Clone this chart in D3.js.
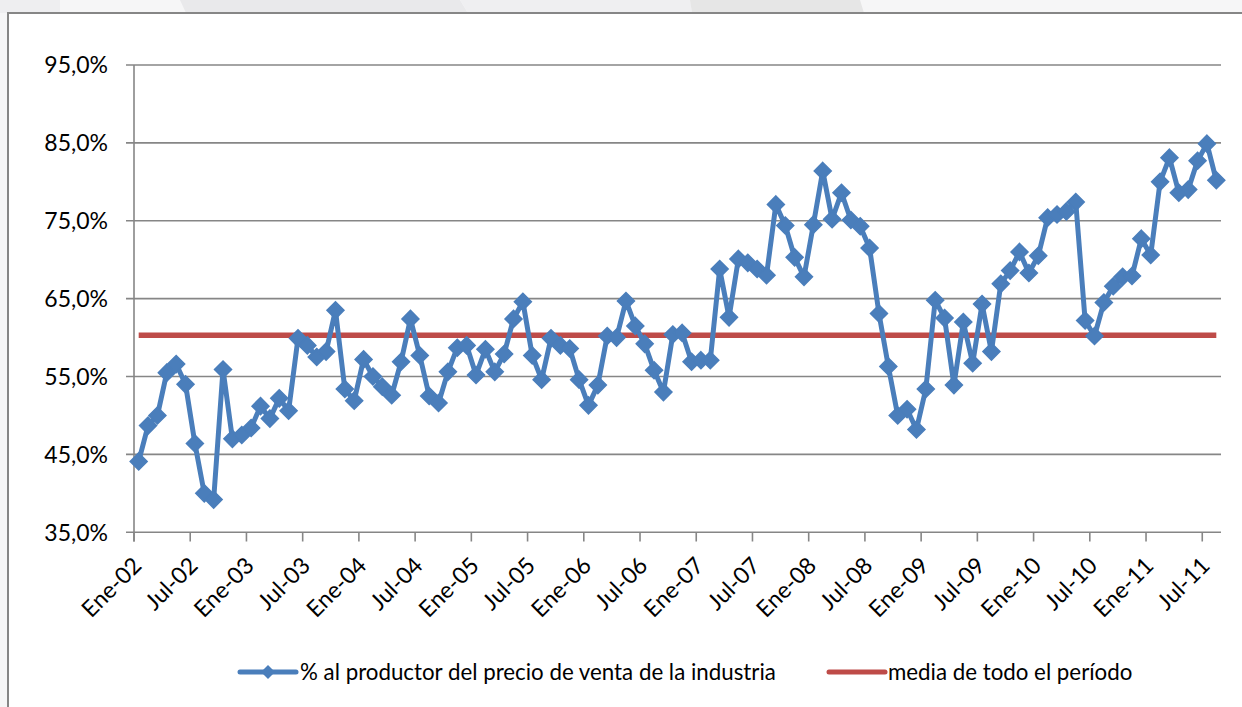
<!DOCTYPE html>
<html>
<head>
<meta charset="UTF-8">
<title>% al productor del precio de venta</title>
<script src="https://cdn.jsdelivr.net/npm/d3@7"></script>
<style>
  body { margin: 0; background: #f6f6f7; }
  svg { display: block; }
  text { font-family: Lato, "Open Sans", sans-serif; fill: #000; }
</style>
</head>
<body>
<script>
// datos mensuales Ene-02 .. Ago-11
var meses = ["Ene","Feb","Mar","Abr","May","Jun","Jul","Ago","Sep","Oct","Nov","Dic"];
var anios = ["02","03","04","05","06","07","08","09","10","11"];
var valores = [
  44.1, 48.7, 50.0, 55.5, 56.6, 54.0, 46.4, 40.0, 39.2, 55.9, 47.0, 47.5,
  48.4, 51.2, 49.6, 52.2, 50.6, 59.9, 59.0, 57.5, 58.2, 63.5, 53.4, 51.9,
  57.2, 55.0, 53.7, 52.6, 56.9, 62.4, 57.7, 52.5, 51.6, 55.6, 58.7, 59.0,
  55.2, 58.5, 55.6, 57.9, 62.4, 64.6, 57.7, 54.6, 59.9, 59.0, 58.6, 54.6,
  51.3, 53.9, 60.2, 60.0, 64.7, 61.5, 59.2, 55.8, 53.0, 60.4, 60.6, 56.9,
  57.1, 57.1, 68.8, 62.6, 70.1, 69.6, 68.8, 68.0, 77.1, 74.4, 70.3, 67.8,
  74.5, 81.4, 75.2, 78.6, 75.1, 74.3, 71.5, 63.1, 56.3, 50.0, 50.8, 48.2,
  53.4, 64.8, 62.5, 53.9, 62.0, 56.7, 64.3, 58.2, 66.9, 68.6, 71.0, 68.3,
  70.5, 75.4, 75.8, 76.2, 77.4, 62.2, 60.2, 64.5, 66.6, 67.8, 67.9, 72.7,
  70.6, 80.0, 83.1, 78.6, 79.0, 82.7, 84.9, 80.2
];
var media = 60.3;
var yTicks = [35, 45, 55, 65, 75, 85, 95];
var xTickLabels = ["Ene-02","Jul-02","Ene-03","Jul-03","Ene-04","Jul-04","Ene-05","Jul-05",
  "Ene-06","Jul-06","Ene-07","Jul-07","Ene-08","Jul-08","Ene-09","Jul-09","Ene-10","Jul-10",
  "Ene-11","Jul-11"];
var leyenda = ["% al productor del precio de venta de la industria", "media de todo el período"];

var categorias = valores.map(function(v, i) {
  return meses[i % 12] + "-" + anios[Math.floor(i / 12)];
});

var W = 1242, H = 707;
var azul = "#4a7ebb", rojo = "#be4b48", gris = "#868686";

var svg = d3.select("body").append("svg")
  .attr("width", W).attr("height", H);

// fondo de la diapositiva
var fondo = [
  {pts: [[0,0],[60,0],[60,13],[0,13]], c: "#eeeef0"},
  {pts: [[180,0],[460,0],[468,13],[186,13]], c: "#e9e9eb"},
  {pts: [[460,0],[690,0],[692,13],[468,13]], c: "#efeff1"},
  {pts: [[690,0],[860,0],[864,13],[692,13]], c: "#e6e6e6"}
];
svg.selectAll("polygon.fondo").data(fondo).enter().append("polygon")
  .attr("class", "fondo")
  .attr("points", function(d) { return d.pts.join(" "); })
  .attr("fill", function(d) { return d.c; });

// marco del grafico
svg.append("rect")
  .attr("x", 8).attr("y", 13)
  .attr("width", W + 20).attr("height", H + 20)
  .attr("fill", "#fff")
  .attr("stroke", gris).attr("stroke-width", 2);

var x = d3.scaleBand().domain(categorias).range([134, 1221]).padding(0);
var y = d3.scaleLinear().domain([35, 95]).range([532.3, 65]);
var cx = function(i) { return x(categorias[i]) + x.bandwidth() / 2; };

// rejilla horizontal
svg.append("g").selectAll("line").data(yTicks).enter().append("line")
  .attr("x1", 126).attr("x2", 1221)
  .attr("y1", function(d) { return y(d); })
  .attr("y2", function(d) { return y(d); })
  .attr("stroke", gris).attr("stroke-width", 1.6);

// eje y
svg.append("line")
  .attr("x1", 134).attr("x2", 134)
  .attr("y1", y(95)).attr("y2", 541.5)
  .attr("stroke", gris).attr("stroke-width", 1.6);

svg.append("g").selectAll("text").data(yTicks).enter().append("text")
  .attr("x", 108)
  .attr("y", function(d) { return y(d); })
  .attr("dy", "0.36em")
  .attr("text-anchor", "end")
  .style("font-size", "23px")
  .text(function(d) { return d3.format(".1f")(d).replace(".", ",") + "%"; });

// marcas y etiquetas del eje x
var tickCats = categorias.filter(function(c, i) { return i % 6 === 0; });
svg.append("g").selectAll("line").data(tickCats).enter().append("line")
  .attr("x1", function(d) { return x(d); })
  .attr("x2", function(d) { return x(d); })
  .attr("y1", 532.3).attr("y2", 541.5)
  .attr("stroke", gris).attr("stroke-width", 1.6);

svg.append("g").selectAll("text").data(tickCats).enter().append("text")
  .attr("transform", function(d) {
    return "translate(" + (x(d) + 9) + ",567) rotate(-45)";
  })
  .attr("text-anchor", "end")
  .style("font-size", "23px")
  .text(function(d, i) { return xTickLabels[i]; });

// linea de la media
svg.append("line")
  .attr("x1", cx(0)).attr("x2", cx(valores.length - 1))
  .attr("y1", y(media)).attr("y2", y(media))
  .attr("stroke", rojo).attr("stroke-width", 5.5);

// serie
var linea = d3.line()
  .x(function(d, i) { return cx(i); })
  .y(function(d) { return y(d); });

svg.append("path")
  .datum(valores)
  .attr("d", linea)
  .attr("fill", "none")
  .attr("stroke", azul)
  .attr("stroke-width", 5)
  .attr("stroke-linejoin", "round");

var rombo = "M0,-8.5L8.5,0L0,8.5L-8.5,0Z";
svg.append("g").selectAll("path").data(valores).enter().append("path")
  .attr("d", rombo)
  .attr("transform", function(d, i) { return "translate(" + cx(i) + "," + y(d) + ")"; })
  .attr("fill", azul)
  .attr("stroke", azul).attr("stroke-width", 1.5);

// leyenda
var ly = 672;
svg.append("line")
  .attr("x1", 240).attr("x2", 296).attr("y1", ly).attr("y2", ly)
  .attr("stroke", azul).attr("stroke-width", 5).attr("stroke-linecap", "round");
svg.append("path")
  .attr("d", "M0,-7L7,0L0,7L-7,0Z")
  .attr("transform", "translate(268," + ly + ")")
  .attr("fill", azul);
svg.append("text")
  .attr("x", 300).attr("y", ly).attr("dy", "0.36em")
  .style("font-size", "22.3px")
  .text(leyenda[0]);

svg.append("line")
  .attr("x1", 829).attr("x2", 885).attr("y1", ly).attr("y2", ly)
  .attr("stroke", rojo).attr("stroke-width", 5).attr("stroke-linecap", "round");
svg.append("text")
  .attr("x", 888).attr("y", ly).attr("dy", "0.36em")
  .style("font-size", "22.3px")
  .text(leyenda[1]);
</script>
</body>
</html>
